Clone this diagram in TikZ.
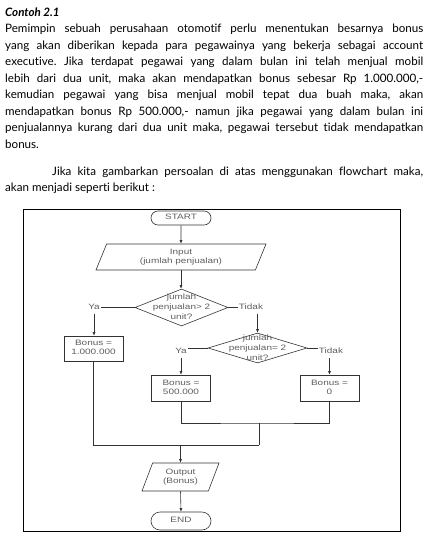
\documentclass[tikz,border=0pt]{standalone}
\usepackage{fontspec}
\setmainfont{Lato}[Ligatures=NoCommon]
\newfontfamily\fcfont{Liberation Sans}
\usetikzlibrary{shapes.geometric,arrows.meta,calc}
\definecolor{fctext}{HTML}{5E5E5E}
\definecolor{fcline}{HTML}{333333}
\newcommand{\fct}[1]{\scalebox{1.28}[1]{\begin{tabular}{@{}c@{}}#1\end{tabular}}}
\frenchspacing
\tikzset{
  body/.style={anchor=base west, inner sep=0pt, font=\fontsize{11.6}{13}\selectfont},
  fc/.style={draw=fcline, line width=0.6pt, text=fctext, inner sep=0pt,
    font=\fcfont\fontsize{7.8}{9.2}\selectfont},
  term/.style={fc, rectangle, rounded corners=7pt, minimum width=60, minimum height=14},
  proc/.style={fc, rectangle, minimum width=59, minimum height=25},
  io/.style={fc, trapezium, trapezium left angle=60, trapezium right angle=120,
    trapezium stretches body},
  dec/.style={fc, diamond},
  lbl/.style={text=fctext, inner sep=1pt, font=\fcfont\fontsize{7.8}{9.2}\selectfont},
  conn/.style={draw=fcline, line width=0.6pt},
  arr/.style={conn, -{Latex[length=3.5pt,width=3pt]}},
}
\begin{document}
\begin{tikzpicture}[x=1pt,y=-1pt]
\useasboundingbox (0,0) rectangle (430,544);
% text
\node[body, font=\fontsize{11.6}{13}\selectfont\bfseries\itshape] (title) at (5,16.7) {Contoh 2.1};
\node[body] (l1) at (5,32.7) {\makebox[418pt][s]{Pemimpin sebuah perusahaan otomotif perlu menentukan besarnya bonus}};
\node[body] (l2) at (5,49) {\makebox[418pt][s]{yang akan diberikan kepada para pegawainya yang bekerja sebagai account}};
\node[body] (l3) at (5,65.5) {\makebox[418pt][s]{executive. Jika terdapat pegawai yang dalam bulan ini telah menjual mobil}};
\node[body] (l4) at (5,82) {\makebox[418pt][s]{lebih dari dua unit, maka akan mendapatkan bonus sebesar Rp 1.000.000,-}};
\node[body] (l5) at (5,98.3) {\makebox[418pt][s]{kemudian pegawai yang bisa menjual mobil tepat dua buah maka, akan}};
\node[body] (l6) at (5,115) {\makebox[418pt][s]{mendapatkan bonus Rp 500.000,- namun jika pegawai yang dalam bulan ini}};
\node[body] (l7) at (5,131.7) {\makebox[418pt][s]{penjualannya kurang dari dua unit maka, pegawai tersebut tidak mendapatkan}};
\node[body] (l8) at (5,148.3) {bonus.};
\node[body] (l9) at (52,175) {\makebox[371pt][s]{Jika kita gambarkan persoalan di atas menggunakan flowchart maka,}};
\node[body] (l10) at (5,191.7) {akan menjadi seperti berikut :};
% frame
\draw[line width=0.9pt] (23,209) rectangle (400,531);
% flowchart nodes
\node[term] (start) at (181,218) {\fct{START}};
\node[io, minimum width=170, minimum height=26] (input) at (181,257) {\fct{Input\\(jumlah penjualan)}};
\node[dec, minimum width=93, minimum height=37,
  label={[lbl, font=\fcfont\fontsize{7.8}{10}\selectfont]center:\fct{jumlah\\penjualan> 2\\unit?}}] (d1) at (181.5,307.5) {};
\node[lbl] (ya1) at (94,308) {\fct{Ya}};
\node[lbl] (tidak1) at (251,308) {\fct{Tidak}};
\node[proc] (b1) at (93.5,348.5) {\fct{Bonus =\\1.000.000}};
\node[dec, minimum width=99, minimum height=30,
  label={[lbl, font=\fcfont\fontsize{7.8}{10}\selectfont]center:\fct{jumlah\\penjualan= 2\\unit?}}] (d2) at (257.5,348) {};
\node[lbl] (ya2) at (181,352) {\fct{Ya}};
\node[lbl] (tidak2) at (331,352) {\fct{Tidak}};
\node[proc, minimum height=26] (b2) at (181,388) {\fct{Bonus =\\500.000}};
\node[proc, minimum height=26] (b3) at (329.5,388) {\fct{Bonus =\\0}};
\coordinate (j1) at (259,423);
\coordinate (j2) at (259,445);
\node[io, minimum width=77, minimum height=28] (output) at (180.5,477) {\fct{Output\\(Bonus)}};
\node[term, minimum height=18, rounded corners=9pt] (end) at (181,521) {\fct{END}};
% connectors
\draw[arr] (start.south) -- (input.north);
\draw[arr] (input.south) -- (input.south |- d1.north);
\draw[conn] (d1.west) -- (d1.west -| ya1.east);
\draw[arr] (ya1.south) -- (ya1.south |- b1.north);
\draw[conn] (d1.east) -- (d1.east -| tidak1.west);
\draw[arr] (tidak1.south -| d2.north) -- (d2.north);
\draw[conn] (d2.west) -- (d2.west -| ya2.east);
\draw[arr] (ya2.south) -- (ya2.south |- b2.north);
\draw[conn] (d2.east) -- (d2.east -| tidak2.west);
\draw[arr] (tidak2.south -| b3.north) -- (b3.north);
\draw[conn] (b2.south) |- (j1) -| (b3.south);
\draw[conn] (j1) -- (j2);
\draw[conn] (b1.south) |- (j2);
\draw[arr] (output.north |- j2) -- (output.north);
\draw[arr] (output.south) -- (end.north);
\end{tikzpicture}
\end{document}
